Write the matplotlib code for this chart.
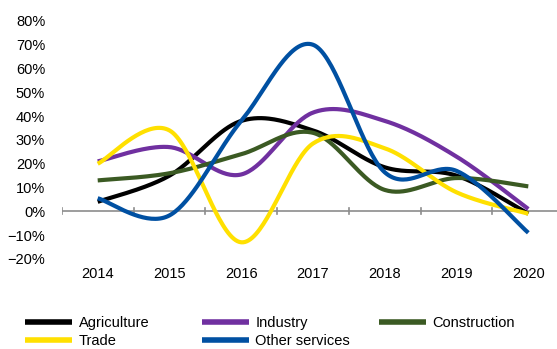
import numpy as np
import matplotlib

matplotlib.use("Agg")
import matplotlib.pyplot as plt
from matplotlib.ticker import PercentFormatter

plt.rcParams["font.family"] = ["Liberation Sans", "DejaVu Sans"]

YEARS = ["2014", "2015", "2016", "2017", "2018", "2019", "2020"]
AGRICULTURE = [0.04, 0.15, 0.38, 0.34, 0.185, 0.15, -0.01]
INDUSTRY = [0.21, 0.27, 0.155, 0.415, 0.38, 0.23, 0.01]
CONSTRUCTION = [0.13, 0.16, 0.24, 0.33, 0.09, 0.14, 0.105]
TRADE = [0.20, 0.34, -0.13, 0.285, 0.265, 0.08, -0.01]
OTHER_SERVICES = [0.055, -0.017, 0.38, 0.70, 0.164, 0.17, -0.09]

SERIES = [
    ("Agriculture", AGRICULTURE, "#000000"),
    ("Industry", INDUSTRY, "#7030A0"),
    ("Construction", CONSTRUCTION, "#3B5A23"),
    ("Trade", TRADE, "#FFE000"),
    ("Other services", OTHER_SERVICES, "#0050A2"),
]


def smooth(x, y, n=40):
    # Catmull-Rom through the points, like a spreadsheet "smoothed line"
    x = np.asarray(x, float)
    y = np.asarray(y, float)
    px = np.concatenate([[x[0]], x, [x[-1]]])
    py = np.concatenate([[y[0]], y, [y[-1]]])
    t = np.linspace(0, 1, n)
    xs, ys = [], []
    for i in range(1, len(px) - 2):
        for p, out in ((px, xs), (py, ys)):
            p0, p1, p2, p3 = p[i - 1], p[i], p[i + 1], p[i + 2]
            c1 = p1 + (p2 - p0) / 6
            c2 = p2 - (p3 - p1) / 6
            seg = ((1 - t) ** 3 * p1 + 3 * (1 - t) ** 2 * t * c1
                   + 3 * (1 - t) * t ** 2 * c2 + t ** 3 * p2)
            out.extend(seg if i == 1 else seg[1:])
    return np.array(xs), np.array(ys)


fig = plt.figure(figsize=(5.57, 3.49), dpi=100)
ax = fig.add_axes([0.111, 0.258, 0.889, 0.682])

x = np.arange(len(YEARS))
lines = []
for name, vals, col in SERIES:
    sx, sy = smooth(x, vals)
    (ln,) = ax.plot(sx, sy, color=col, lw=3, label=name, solid_capstyle="butt")
    lines.append(ln)

ax.set_xlim(-0.5, 6.4)
ax.set_ylim(-0.2, 0.8)
ax.set_yticks(np.arange(-0.2, 0.81, 0.1))
ax.yaxis.set_major_formatter(PercentFormatter(1.0, decimals=0))
ax.tick_params(axis="y", length=0, labelsize=10.5, pad=12)

# category axis drawn at 0%, labels at the bottom
ax.axhline(0, color="#8c8c8c", lw=1.2, zorder=0)
for b in np.arange(-0.5, 6.0, 1.0):
    ax.plot([b, b], [-0.012, 0.012], color="#8c8c8c", lw=1.2, zorder=0)
ax.set_xticks(x)
ax.set_xticklabels(YEARS)
ax.tick_params(axis="x", length=0, labelsize=10.5, pad=6)

for s in ax.spines.values():
    s.set_visible(False)

# three legend columns with fixed positions
cols = [(lines[0], lines[3]), (lines[1], lines[4]), (lines[2],)]
xpos = [0.045, 0.362, 0.68]
for hs, xp in zip(cols, xpos):
    leg = fig.legend(hs, [h.get_label() for h in hs], loc="upper left",
                     bbox_to_anchor=(xp, 0.094), frameon=False, fontsize=10.5,
                     handlelength=3.25, handletextpad=0.42, labelspacing=0.25,
                     borderaxespad=0, borderpad=0)
    for lh in leg.get_lines():
        lh.set_linewidth(4)

fig.savefig("out.png", dpi=100)
